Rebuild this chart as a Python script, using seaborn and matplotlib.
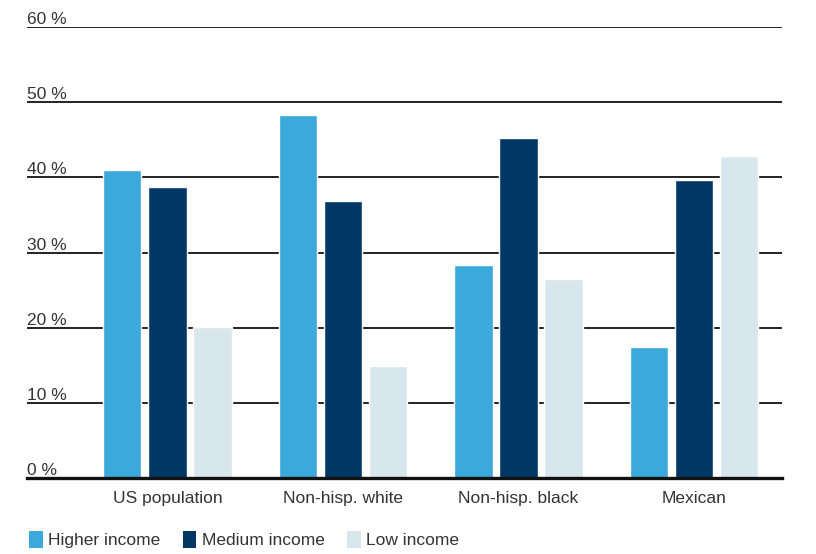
import matplotlib
matplotlib.use("Agg")
import matplotlib.pyplot as plt
import seaborn as sns
import pandas as pd
from matplotlib.patches import Patch

categories = ["US population", "Non-hisp. white", "Non-hisp. black", "Mexican"]
series = ["Higher income", "Medium income", "Low income"]
higher = [41.0, 48.3, 28.4, 17.5]
medium = [38.7, 36.9, 45.2, 39.7]
low = [20.1, 14.9, 26.5, 42.9]
yticks = [0, 10, 20, 30, 40, 50, 60]
ytick_labels = ["0 %", "10 %", "20 %", "30 %", "40 %", "50 %", "60 %"]
colors = ["#3BA9DB", "#003764", "#D8E6EE"]

rows = []
for s, vals in zip(series, [higher, medium, low]):
    for c, v in zip(categories, vals):
        rows.append({"cat": c, "series": s, "value": v})
df = pd.DataFrame(rows)

sns.set_style("white")
plt.rcParams["font.family"] = ["Liberation Sans", "DejaVu Sans"]
FS = 12.5

fig = plt.figure(figsize=(8.16, 5.54), dpi=100)
ax = fig.add_axes([0.033, 0.137, 0.925, 0.814])

sns.barplot(data=df, x="cat", y="value", hue="series", order=categories,
            hue_order=series, palette=colors, width=0.77, gap=0.15,
            saturation=1, errorbar=None, ax=ax, legend=False)

ax.set_ylim(0, 60)
ax.set_xlim(-0.8, 3.5)
ax.set_xlabel("")
ax.set_ylabel("")

# gridlines
for y in yticks[1:]:
    ax.axhline(y, color="#222222", lw=1.4, zorder=0.5)
ax.set_yticks([])
for y, lab in zip(yticks, ytick_labels):
    ax.text(0.0, y + 0.4, lab, transform=ax.get_yaxis_transform(),
            ha="left", va="baseline", fontsize=FS, color="#333333")

for s in ["top", "right", "left"]:
    ax.spines[s].set_visible(False)
ax.spines["bottom"].set_color("#111111")
ax.spines["bottom"].set_linewidth(2.4)
ax.spines["bottom"].set_zorder(5)

ax.set_xticks(range(len(categories)))
ax.set_xticklabels(categories, fontsize=FS, color="#333333")
ax.tick_params(axis="x", which="major", length=0, pad=9)
ax.set_xticks([i - 0.5 for i in range(len(categories) + 1)], minor=True)
ax.tick_params(axis="x", which="minor", length=8, width=1.2, color="#111111", direction="out")

handles = [Patch(facecolor=c, edgecolor="none", label=s) for c, s in zip(colors, series)]
fig.legend(handles=handles, loc="center left", bbox_to_anchor=(0.016, 0.026), ncol=3,
           frameon=False, fontsize=FS, handlelength=0.8, handleheight=1.1,
           handletextpad=0.3, columnspacing=1.3, labelcolor="#333333")

fig.savefig("out.png", dpi=100)
